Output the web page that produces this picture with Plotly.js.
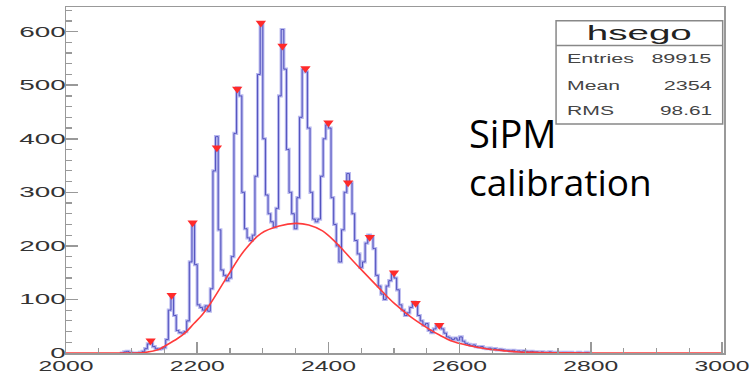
<!DOCTYPE html>
<html>
<head>
<meta charset="utf-8">
<script src="https://cdn.plot.ly/plotly-3.0.1.min.js"></script>
<style>
  html, body { margin: 0; padding: 0; background: #fff; }
  #chart { width: 755px; height: 372px; }
</style>
</head>
<body>
<div id="chart"></div>
<script>
// ---- Histogram "hsego": bin width 4, first bin centre 2082 ----
const binFirstCenter = 2082;
const binWidth = 4;
const counts = [
  0, 0, 2, 3, 1, 0, 0, 0, 1, 3,
  8, 17, 20, 12, 8, 7, 8, 10, 25, 80,
  105, 70, 42, 38, 37, 40, 60, 170, 242, 165,
  90, 85, 80, 88, 78, 120, 340, 404, 230, 155,
  145, 135, 140, 180, 410, 495, 480, 300, 232, 215,
  210, 220, 330, 520, 616, 400, 295, 260, 245, 235,
  270, 480, 604, 530, 380, 300, 260, 232, 290, 440,
  530, 525, 420, 300, 250, 245, 250, 330, 400, 426,
  420, 290, 240, 200, 170, 230, 300, 335, 318, 260,
  210, 185, 160, 170, 205, 220, 218, 195, 145, 125,
  110, 100, 125, 135, 148, 140, 118, 90, 80, 70,
  75, 85, 95, 92, 70, 60, 52, 55, 42, 38,
  45, 52, 50, 45, 37, 30, 28, 25, 28, 24,
  30, 22, 18, 16, 14, 15, 12, 11, 12, 9,
  8, 9, 7, 8, 6, 7, 6, 5, 5, 4,
  5, 3, 4, 3, 4, 3, 2, 3, 2, 2,
  1, 2, 1, 1, 2, 1, 1, 1, 0, 1,
  1, 0, 1, 0, 0, 1, 0, 0, 1, 0,
  0
];

// ---- Gaussian fit curve ----
const fitX = [2000, 2100, 2120, 2140, 2152, 2170, 2182, 2195, 2208, 2220, 2246, 2271, 2297, 2325, 2350, 2370, 2391, 2410, 2424, 2439, 2449, 2475, 2500, 2525, 2553, 2570, 2589, 2610, 2640, 2670, 2690, 2720, 2760, 2800, 3000];
const fitY = [0, 0, 1, 6, 14, 27, 38, 55, 72, 92, 143, 190, 223, 237, 242, 239, 228, 208, 190, 170, 157, 124, 93, 68, 45, 33, 22, 15, 8, 4, 2, 1, 0.3, 0, 0];

// ---- Peaks found (red triangles) ----
const peakX = [2129, 2161, 2193, 2230, 2261, 2297, 2330, 2365, 2400, 2430, 2463, 2500, 2533, 2569];
const peakY = [23, 108, 243, 383, 493, 616, 573, 531, 430, 318, 216, 150, 93, 52];

// ---- Stats box ----
const histName = "hsego";
const statLabels = ["Entries", "Mean", "RMS"];
const statValues = ["89915", "2354", "98.61"];
const noteLines = ["SiPM", "calibration"];

const xTickVals = [2000, 2200, 2400, 2600, 2800, 3000];
const yTickVals = [0, 100, 200, 300, 400, 500, 600];

const binX = counts.map((_, i) => binFirstCenter + i * binWidth);

const traces = [
  { x: binX, y: counts, type: 'scatter', mode: 'lines',
    line: { shape: 'hvh', color: 'rgba(155,155,232,0.7)', width: 3.2 }, hoverinfo: 'skip' },
  { x: binX, y: counts, type: 'scatter', mode: 'lines',
    line: { shape: 'hvh', color: '#5050bd', width: 1 } },
  { x: fitX, y: fitY, type: 'scatter', mode: 'lines',
    line: { shape: 'spline', smoothing: 1, color: '#ff3b3b', width: 1.6 } },
  { x: peakX, y: peakY, type: 'scatter', mode: 'markers',
    marker: { symbol: 'triangle-down', size: 9, color: '#ff2a2a' } }
];

const statYs = [549, 499, 452];
const annotations = [
  { x: 2873.5, y: 597.6, xref: 'x', yref: 'y', text: histName, showarrow: false,
    xanchor: 'center', yanchor: 'middle', font: { family: 'Liberation Sans, Arial, sans-serif', size: 20, color: '#222' } }
];
statLabels.forEach((s, i) => {
  annotations.push({ x: 2760, y: statYs[i], xref: 'x', yref: 'y', text: s, showarrow: false,
    xanchor: 'left', yanchor: 'middle', align: 'left',
    font: { family: 'Liberation Sans, Arial, sans-serif', size: 12, color: '#444' } });
  annotations.push({ x: 2987, y: statYs[i], xref: 'x', yref: 'y', text: statValues[i], showarrow: false,
    xanchor: 'right', yanchor: 'middle', align: 'right',
    font: { family: 'Liberation Sans, Arial, sans-serif', size: 12, color: '#444' } });
});
annotations.push({ x: 2612, y: 410, xref: 'x', yref: 'y', text: noteLines[0], showarrow: false,
  xanchor: 'left', yanchor: 'middle', align: 'left',
  font: { family: 'Open Sans, sans-serif', size: 38, color: '#000' } });
annotations.push({ x: 2612, y: 320, xref: 'x', yref: 'y', text: noteLines[1], showarrow: false,
  xanchor: 'left', yanchor: 'middle', align: 'left',
  font: { family: 'Open Sans, sans-serif', size: 37, color: '#000' } });

const shapes = [
  { type: 'rect', xref: 'x', yref: 'y', x0: 2747, x1: 3001, y0: 427.6, y1: 620.5,
    line: { color: '#888', width: 1.5 }, fillcolor: '#fff', layer: 'above' },
  { type: 'line', xref: 'x', yref: 'y', x0: 2747, x1: 3001, y0: 573.9, y1: 573.9,
    line: { color: '#888', width: 1.5 }, layer: 'above' }
];

const layout = {
  width: 755, height: 372,
  margin: { l: 66, r: 31, t: 7, b: 19 },
  paper_bgcolor: '#fff', plot_bgcolor: '#fff',
  showlegend: false,
  xaxis: {
    range: [2000, 3003], tickmode: 'array', tickvals: xTickVals,
    ticks: 'inside', ticklen: 11, tickwidth: 1.5, tickcolor: '#999',
    minor: { dtick: 50, tick0: 2000, ticks: 'inside', ticklen: 5, tickcolor: '#999', tickwidth: 1.2, showgrid: false },
    showline: true, linecolor: '#999', linewidth: 1.5, mirror: true,
    showgrid: false, zeroline: false,
    tickfont: { family: 'Liberation Sans, Arial, sans-serif', size: 14, color: '#333' }
  },
  yaxis: {
    range: [0, 646], tickmode: 'array', tickvals: yTickVals,
    ticks: 'inside', ticklen: 12, tickwidth: 1.5, tickcolor: '#999',
    minor: { dtick: 20, tick0: 0, ticks: 'inside', ticklen: 6, tickcolor: '#999', tickwidth: 1.2, showgrid: false },
    showline: true, linecolor: '#999', linewidth: 1.5, mirror: true,
    showgrid: false, zeroline: false, ticklabelstandoff: -4,
    tickfont: { family: 'Liberation Sans, Arial, sans-serif', size: 14, color: '#333' }
  },
  annotations: annotations,
  shapes: shapes
};

function stretchText() {
  const widths = { 'hsego': 105, 'Entries': 67, '89915': 60, 'Mean': 53, '2354': 48, 'RMS': 47, '98.61': 52 };
  document.querySelectorAll('#chart .xtick text').forEach(t => {
    const n = t.textContent.length;
    t.setAttribute('textLength', 13.75 * n);
    t.setAttribute('lengthAdjust', 'spacingAndGlyphs');
  });
  document.querySelectorAll('#chart .ytick text').forEach(t => {
    const n = t.textContent.length;
    t.setAttribute('textLength', 15.5 * n);
    t.setAttribute('lengthAdjust', 'spacingAndGlyphs');
  });
  document.querySelectorAll('#chart .annotation-text').forEach(t => {
    const w = widths[t.textContent];
    if (w) {
      t.setAttribute('textLength', w);
      t.setAttribute('lengthAdjust', 'spacingAndGlyphs');
    }
  });
}

Plotly.newPlot('chart', traces, layout, { displayModeBar: false, staticPlot: true }).then(stretchText);
</script>
</body>
</html>
